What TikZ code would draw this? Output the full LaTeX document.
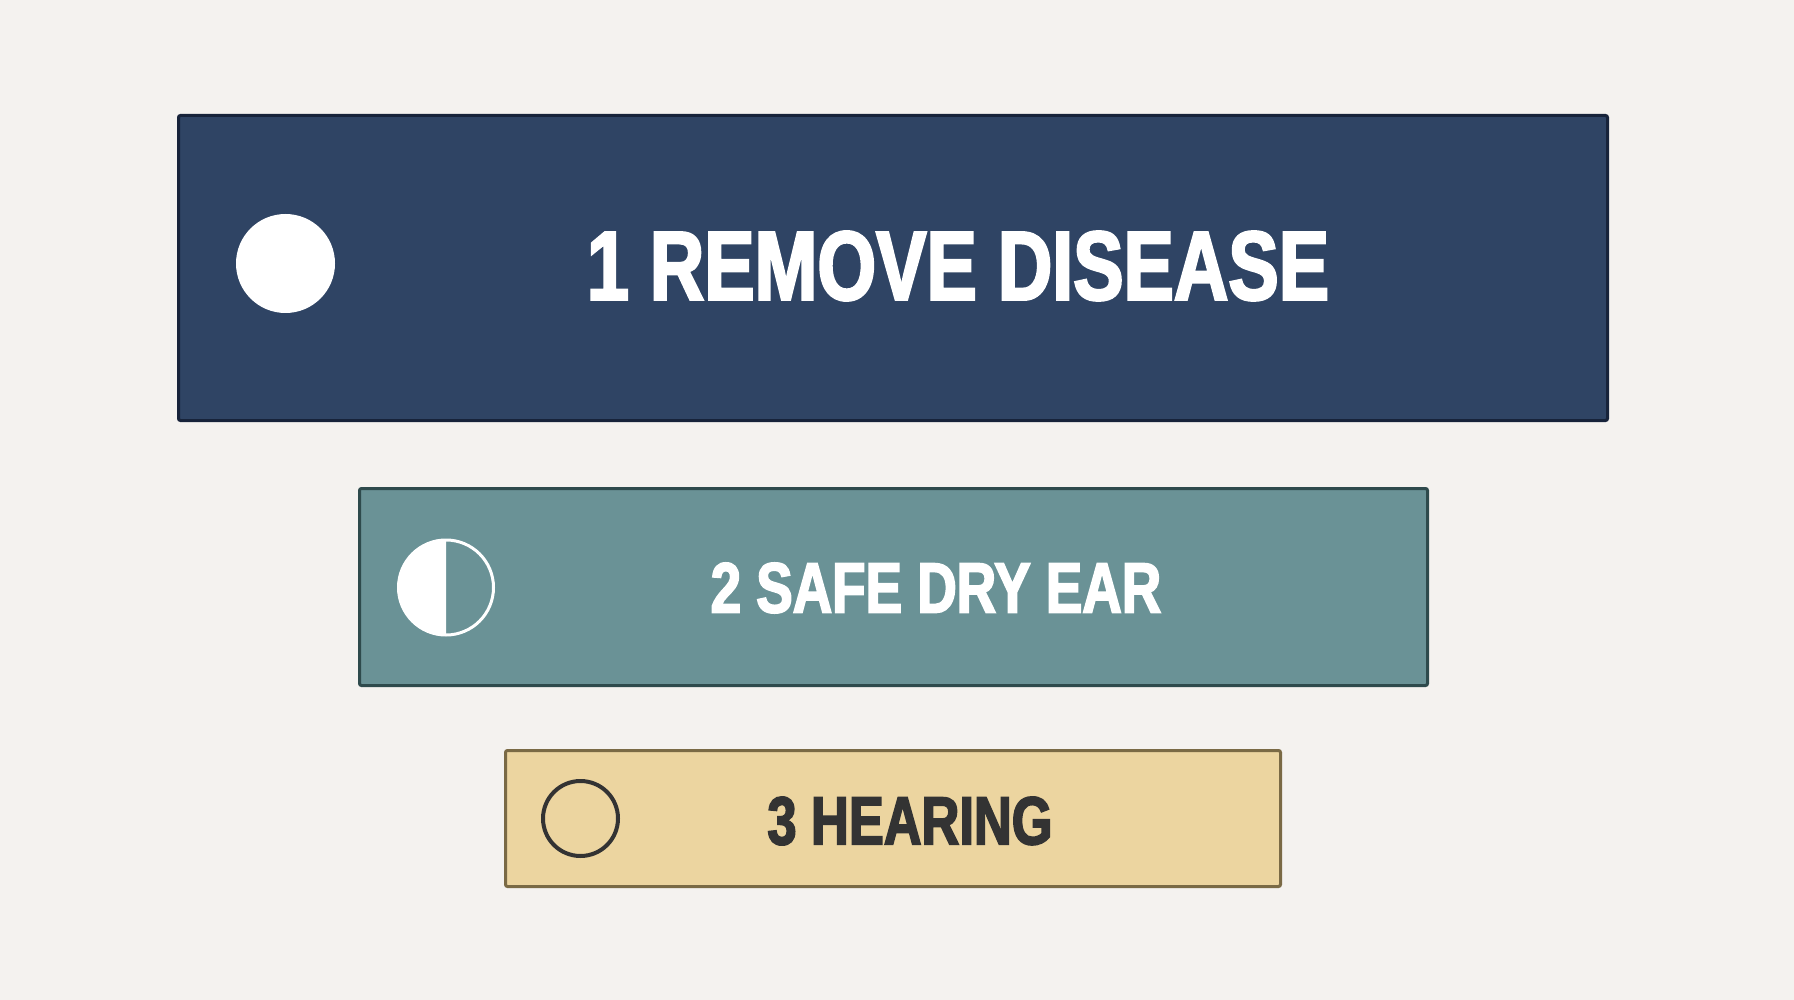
\documentclass[tikz,border=0pt]{standalone}
\usepackage{fontspec}
\newfontfamily\bandfont{Liberation Sans}[FakeStretch=0.77,FakeBold=2.5]
\definecolor{paper}{HTML}{F4F2EF}
\definecolor{navy}{HTML}{2F4464}
\definecolor{navyline}{HTML}{17233A}
\definecolor{teal}{HTML}{6A9296}
\definecolor{tealline}{HTML}{2E4A4C}
\definecolor{sand}{HTML}{ECD5A0}
\definecolor{sandline}{HTML}{7A6A45}
\definecolor{ink}{HTML}{333333}
\tikzset{
  band/.style={draw,line width=3pt,rounded corners=2pt,anchor=north west,inner sep=0pt},
  dot/.style={circle,inner sep=0pt},
  bandtext/.style={inner sep=0pt,font=\bandfont\bfseries\fontsize{#1}{#1}\selectfont}
}
\begin{document}
\begin{tikzpicture}[x=1pt,y=-1pt]
  \fill[color=paper] (0,0) rectangle +(1794,1000);
  % step 1
  \node[band,fill=navy,draw=navyline,minimum width=1429pt,minimum height=305pt]
    (disease) at (177,114) {};
  \node[dot,fill=white,minimum size=99pt] (diseasedot) at (285.5,263.5) {};
  \node[bandtext=98,text=white] (diseasetext) at (958,266) {1 REMOVE DISEASE};
  % step 2
  \node[band,fill=teal,draw=tealline,minimum width=1068pt,minimum height=197pt]
    (dryear) at (358,487) {};
  \node[dot,draw=white,line width=3pt,minimum size=95pt] (dryeardot) at (446,587.5) {};
  \begin{scope}
    \clip (dryeardot.west |- dryeardot.north) rectangle (dryeardot.south);
    \fill[color=white] (dryeardot.center) circle[radius=48.5];
  \end{scope}
  \node[bandtext=71,text=white] (dryeartext) at (936,588) {2 SAFE DRY EAR};
  % step 3
  \node[band,fill=sand,draw=sandline,minimum width=775pt,minimum height=136pt]
    (hearing) at (504,749) {};
  \node[dot,draw=ink,line width=4pt,minimum size=75pt] (hearingdot) at (580.5,818.5) {};
  \node[bandtext=68,text=ink] (hearingtext) at (910,821) {3 HEARING};
\end{tikzpicture}
\end{document}
